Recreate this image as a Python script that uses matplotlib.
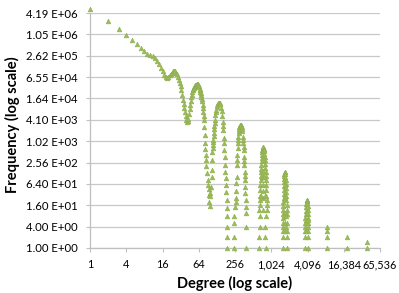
import matplotlib
matplotlib.use("Agg")
import matplotlib.pyplot as plt

plt.rcParams['font.family'] = ['Lato', 'DejaVu Sans']

# ---- data (degree, frequency) ----
head_deg = list(range(1, 41))
head_freq = [5.3e6, 2.45e6, 1.46e6, 9.9e5, 7.2e5, 5.5e5, 4.4e5, 3.5e5, 3.0e5, 2.8e5,
             2.5e5, 2.27e5, 1.81e5, 1.49e5, 1.22e5, 9.5e4, 7.5e4, 6.4e4, 6.1e4, 6.5e4,
             7.3e4, 8.0e4, 8.8e4, 9.7e4, 9.9e4, 9.7e4, 8.7e4, 7.8e4, 6.6e4, 5.6e4,
             4.6e4, 3.7e4, 2.8e4, 2.1e4, 1.53e4, 1.14e4, 8.8e3, 6.8e3, 5.2e3, 4.1e3]

hump2_deg = [41, 42, 43, 44, 45, 46, 47, 48, 49, 50, 51, 52, 53, 54, 55, 56, 57, 58, 59, 60,
             61, 62, 63, 64, 65, 66, 67, 68, 69, 70, 71, 72, 73, 74, 75, 76, 77, 78, 79, 80,
             81, 82, 83, 84, 86, 88, 90, 92, 93, 94, 96, 97]
hump2_freq = [3.6e3, 3.8e3, 4.3e3, 6.0e3, 8.5e3, 1.1e4, 1.4e4, 1.8e4, 2.1e4, 2.5e4,
              2.8e4, 3.0e4, 3.2e4, 3.4e4, 3.6e4, 3.8e4, 3.9e4, 4.0e4, 4.1e4, 4.2e4,
              4.15e4, 4.1e4, 3.95e4, 3.7e4, 3.4e4, 3.1e4, 2.8e4, 2.5e4, 2.3e4, 2.1e4,
              1.8e4, 1.6e4, 1.35e4, 1.1e4, 9.0e3, 7.0e3, 5.4e3, 4.0e3, 2.5e3, 1.5e3,
              900, 600, 420, 300, 200, 130, 85, 60, 45, 32, 20, 15]

hump3_deg = [98, 100, 104, 105, 106, 107, 108, 109, 110, 111, 112, 113, 114, 115, 116, 117, 118,
             120, 122, 124, 127, 131, 136, 140, 143, 146, 150, 154, 158, 160, 162, 163, 165,
             167, 170, 172, 175, 177, 179, 181, 183, 185, 186, 187, 188, 190, 190]
hump3_freq = [30, 36, 53, 100, 158, 300, 500, 650, 800, 950, 1100, 1400, 1700, 2200, 2700, 3300, 4000,
              5600, 6700, 7700, 9400, 10700, 12000, 12300, 12000, 11500, 9000, 7300, 5200, 3600, 2700, 2100, 1300,
              900, 580, 370, 220, 140, 94, 60, 38, 22, 13, 8, 4, 2, 1]

hump4_deg = [244, 246, 246, 246, 256, 262, 266, 268, 270, 273, 276, 278, 280, 282, 285, 287, 290, 293, 296,
             300, 304, 308, 313, 318, 322, 327, 331, 336, 340, 346, 350, 353, 356, 358, 361, 363, 365, 369,
             372, 375, 378, 382, 386, 390, 390, 390, 392]
hump4_freq = [2, 1, 5, 8, 14, 20, 26, 40, 70, 100, 218, 300, 419, 660, 910, 1100, 1350, 1700, 2000,
              2300, 2600, 2800, 2930, 3000, 2930, 2800, 2600, 2300, 2000, 1350, 1100, 910, 700, 580, 370, 290, 218, 139,
              105, 82, 52, 36, 22, 14, 10, 4, 1]

hump5_deg = [641, 641, 666, 666, 653, 660, 666, 670, 674, 678, 681, 686, 692, 697, 703, 708, 714, 720,
             725, 732, 738, 750, 760, 770, 776, 782, 790, 798, 806, 814, 820, 826, 832, 838, 843,
             848, 852, 855, 858, 860, 838, 806, 806, 838,
             750, 750, 750, 750, 760, 740, 720, 780, 700, 800, 750]
hump5_freq = [1, 2, 4, 8, 12, 16, 22, 30, 43, 60, 82, 110, 139, 170, 218, 280, 350, 420,
              500, 570, 640, 700, 690, 620, 580, 540, 450, 370, 300, 235, 180, 139, 110, 82, 60,
              43, 30, 22, 16, 12, 8, 4, 2, 1,
              300, 150, 60, 25, 100, 40, 100, 100, 30, 30, 12]

hump6_deg = [1577, 1582, 1587, 1596, 1605, 1611, 1617, 1626, 1636, 1643, 1650, 1658, 1667, 1676,
             1685, 1697, 1710, 1728, 1747, 1760, 1774, 1787, 1800, 1810, 1820, 1828, 1835, 1842,
             1849, 1849, 1849, 1587, 1849, 1587, 1849,
             1710, 1720, 1700, 1720, 1650, 1780, 1700, 1800, 1750]
hump6_freq = [3, 4, 5, 7, 9, 12, 15, 20, 26, 34, 43, 56, 72, 90,
              107, 125, 139, 135, 120, 100, 82, 64, 49, 38, 29, 22, 16, 12,
              9, 5, 3, 2, 2, 1, 1,
              60, 25, 10, 5, 8, 8, 3, 4, 30]

hump7_deg = [3722, 3745, 3767, 3790, 3810, 3838, 3867, 3905, 3944, 3980, 4017, 4055, 4094, 4118,
             4140, 4170, 4205, 4215, 4223, 4180, 3722, 4223, 3722, 4223,
             3950, 3950, 3850, 4100, 3900, 4000]
hump7_freq = [3, 4, 5, 7, 9, 11, 14, 17, 21, 22, 22, 21, 19, 15,
              12, 9, 7, 5, 4, 3, 2, 2, 1, 1,
              10, 5, 6, 6, 3, 14]

tail_deg = [8700, 8700, 8700, 8700, 18700, 18700, 39900, 39900]
tail_freq = [4, 3, 2, 1, 2, 1, 1.5, 1]

y_ticks = [4 ** k for k in range(12)]
y_labels = ["1.00 E+00", "4.00 E+00", "1.60 E+01", "6.40 E+01", "2.56 E+02", "1.02 E+03",
            "4.10 E+03", "1.64 E+04", "6.55 E+04", "2.62 E+05", "1.05 E+06", "4.19 E+06"]
x_ticks = [4 ** k for k in range(9)]
x_labels = ["1", "4", "16", "64", "256", "1,024", "4,096", "16,384", "65,536"]

deg = head_deg + hump2_deg + hump3_deg + hump4_deg + hump5_deg + hump6_deg + hump7_deg + tail_deg
freq = head_freq + hump2_freq + hump3_freq + hump4_freq + hump5_freq + hump6_freq + hump7_freq + tail_freq

fig = plt.figure(figsize=(3.99, 2.93), dpi=100)
ax = fig.add_axes([90 / 399, 45 / 293, 290 / 399, 235 / 293])
ax.set_xscale('log', base=2)
ax.set_yscale('log', base=2)
ax.set_xlim(1, 65536)
ax.set_ylim(1, 4 ** 11)

ax.grid(axis='y', color='#C8C8C8', linewidth=0.9)
ax.set_axisbelow(True)

ax.plot(deg, freq, linestyle='none', marker='^', markersize=3.4,
        markerfacecolor='#9BBB59', markeredgecolor='#8FAF4E', markeredgewidth=0.4,
        clip_on=False, zorder=3)

ax.set_yticks(y_ticks)
ax.set_yticklabels(y_labels)
ax.set_xticks(x_ticks)
ax.set_xticklabels(x_labels)
ax.minorticks_off()
ax.tick_params(axis='both', colors='#C0C0C0', labelcolor='black', length=3, width=0.8)
ax.tick_params(axis='y', pad=6, labelsize=8.2)
ax.tick_params(axis='x', pad=5, labelsize=7.8)

for s in ['top', 'right']:
    ax.spines[s].set_visible(False)
for s in ['left', 'bottom']:
    ax.spines[s].set_color('#BFBFBF')
    ax.spines[s].set_linewidth(0.9)

fig.text(235 / 399, 1 - 283 / 293, "Degree (log scale)", ha='center', va='center',
         fontsize=10.5, fontweight='bold')
fig.text(12 / 399, 1 - 125 / 293, "Frequency (log scale)", ha='center', va='center',
         rotation=90, fontsize=10.5, fontweight='bold')

fig.savefig("out.png", dpi=100)
